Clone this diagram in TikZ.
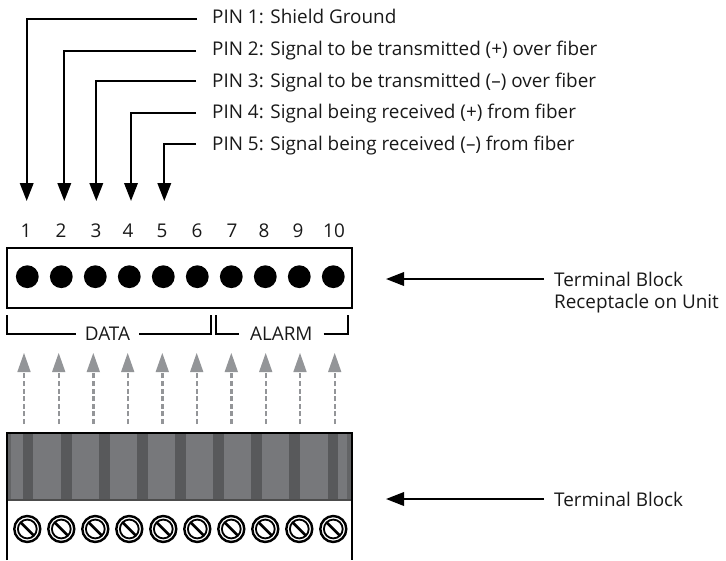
\documentclass[tikz,border=0pt]{standalone}
\usepackage{fontspec}
\setmainfont{Open Sans}
\usetikzlibrary{arrows.meta}
\definecolor{blockgray}{HTML}{77787B}
\definecolor{slotgray}{HTML}{58595B}
\definecolor{edgegray}{HTML}{636466}
\definecolor{pushgray}{HTML}{939598}
\tikzset{
  label/.style={inner sep=0pt, font=\fontsize{18.9}{22}\selectfont, text=black!90},
  leader/.style={line width=2pt, -{Triangle[length=18pt,width=13.5pt]}},
  bracket/.style={line width=1.8pt},
  push/.style={draw=pushgray, line width=2.4pt, dash pattern=on 5pt off 2.6pt},
  pushtip/.style={fill=pushgray, draw=none},
}
\begin{document}
\begin{tikzpicture}[x=1pt, y=-1pt, line join=miter]

  %% pin leaders
  \node[label, anchor=base west] (pin1) at (212,23.8) {PIN 1: Shield Ground};
  \node[label, anchor=base west] (pin2) at (212,55.7) {PIN 2: Signal to be transmitted (+) over fiber};
  \node[label, anchor=base west] (pin3) at (212,87.3) {PIN 3: Signal to be transmitted (–) over fiber};
  \node[label, anchor=base west] (pin4) at (212,118.5) {PIN 4: Signal being received (+) from fiber};
  \node[label, anchor=base west] (pin5) at (212,150.5) {PIN 5: Signal being received (–) from fiber};
  \coordinate (s1) at (197,19);
  \coordinate (s2) at (196,51);
  \coordinate (s3) at (196,81);
  \coordinate (s4) at (196,113);
  \coordinate (s5) at (196,144);
  \coordinate (t1) at (26.7,201);
  \coordinate (t2) at (64.3,201);
  \coordinate (t3) at (96.3,201);
  \coordinate (t4) at (131,201);
  \coordinate (t5) at (164.3,201);
  \draw[leader] (s1) -| (t1);
  \draw[leader] (s2) -| (t2);
  \draw[leader] (s3) -| (t3);
  \draw[leader] (s4) -| (t4);
  \draw[leader] (s5) -| (t5);

  %% receptacle
  \draw[line width=2pt] (6.7,248.3) rectangle (351.7,308.3);
  \foreach \x in {27.3,61.3,95.3,129.3,163.3,197.3,231.3,265.3,299.3,333.3} {
    \fill (\x,276.7) circle (11.4);
  }
  \foreach \n/\x in {1/26,2/61,3/96,4/128,5/162,6/197,7/232,8/264,9/298,10/334} {
    \node[label, anchor=base] (num\n) at (\x,237.7) {\n};
  }
  \node[label, anchor=base, minimum width=63pt] (data) at (107.5,340.7) {DATA};
  \node[label, anchor=base, minimum width=84pt] (alarm) at (281.3,340.7) {ALARM};
  \coordinate (d1) at (6.7,315);
  \coordinate (d2) at (211,315);
  \coordinate (a1) at (216,315);
  \coordinate (a2) at (347.7,315);
  \draw[bracket] (d1) |- (data.west);
  \draw[bracket] (data.east) -| (d2);
  \draw[bracket] (a1) |- (alarm.west);
  \draw[bracket] (alarm.east) -| (a2);

  %% push arrows
  \foreach \x in {24,58.7,93.3,127.7,162.3,196.7,231.3,265.7,300,334.7} {
    \draw[push] (\x,424) -- (\x,372);
    \fill[pushtip] (\x,353) -- (\x+6.7,372) -- (\x-6.7,372) -- cycle;
  }

  %% terminal block
  \fill[blockgray] (6.7,433) rectangle (351.7,500);
  \fill[edgegray] (7,433) rectangle (11,500);
  \fill[edgegray] (347,433) rectangle (351,500);
  \foreach \x in {28,66.3,104.3,142.3,180.3,218.3,256.3,294.3,332.8} {
    \fill[slotgray] (\x-5.3,433) rectangle (\x+5.3,500);
  }
  \draw[line width=2pt, draw=black!70] (6.7,500) -- (351.7,500);
  \draw[line width=2.2pt] (6.7,560) -- (6.7,433) -- (351.7,433) -- (351.7,560);
  \foreach \x in {27.3,61.3,95.3,129.3,163.3,197.3,231.3,265.3,299.3,333.3} {
    \draw[line width=2.4pt] (\x,529) circle (13);
    \draw[line width=1.8pt] (\x,529) circle (9.4);
    \draw[line width=2.6pt] (\x-6.8,529-6.8) -- (\x+6.8,529+6.8);
  }

  %% callouts
  \node[label, anchor=west] (recvlabel1) at (554,279) {Terminal Block};
  \node[label, anchor=west] (recvlabel2) at (554,303.5) {Receptacle on Unit};
  \node[label, anchor=west] (blocklabel) at (554,499) {Terminal Block};
  \coordinate (recvtip) at (386,279);
  \coordinate (blocktip) at (386,499);
  \draw[leader] ([xshift=-10pt]recvlabel1.west) -- (recvtip);
  \draw[leader] ([xshift=-10pt]blocklabel.west) -- (blocktip);

  \pgfresetboundingbox
  \path[use as bounding box] (0,0) rectangle (726,560);
\end{tikzpicture}
\end{document}
